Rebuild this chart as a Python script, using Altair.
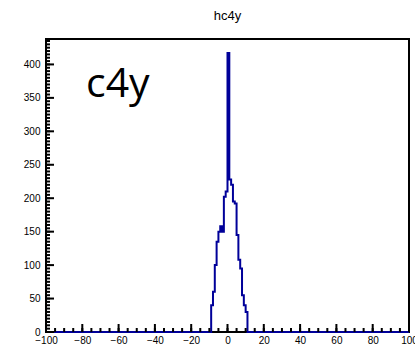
import altair as alt
import pandas as pd

# Histogram hc4y: unit-width bins, only the populated ones listed
bin_left = list(range(-9, 11))
counts = [40, 60, 100, 135, 150, 158, 150, 202, 210, 417,
          228, 220, 195, 192, 145, 108, 95, 55, 40, 30]
bin_width = 1

x_range = [-100, 100]
y_range = [0, 438]

x_major = list(range(-100, 101, 20))
x_minor = list(range(-100, 101, 5))
y_major = list(range(0, 401, 50))
y_minor = list(range(0, 436, 5))

# Outline points for a step-after line, starting and ending on the x range
step_x = [x_range[0]] + bin_left + [bin_left[-1] + bin_width, x_range[1]]
step_y = [0] + counts + [0, 0]
hist = pd.DataFrame({"x": step_x, "y": step_y})

label_df = pd.DataFrame({"label": ["c4y"]})

FONT = "Liberation Sans"
W, H = 363, 293
MAJOR, MINOR = 8, 4

x_scale = alt.Scale(domain=x_range, nice=False, zero=False)
y_scale = alt.Scale(domain=y_range, nice=False)

# Label-only axes; tick marks are drawn as rules pointing into the frame
x_axis = alt.Axis(
    values=x_major, ticks=False, domain=False, grid=False, title=None,
    labelFont=FONT, labelFontSize=10, labelColor="black",
    labelPadding=3, labelOverlap=False, labelFlush=False)
y_axis = alt.Axis(
    values=y_major, ticks=False, domain=False, grid=False, title=None,
    labelFont=FONT, labelFontSize=10, labelColor="black",
    labelPadding=6, labelOverlap=False, labelFlush=False)

line = alt.Chart(hist).mark_line(
    interpolate="step-after", color="#000099", strokeWidth=2
).encode(
    x=alt.X("x:Q", scale=x_scale, axis=x_axis),
    y=alt.Y("y:Q", scale=y_scale, axis=y_axis),
)


def x_ticks(values, length):
    return alt.Chart(pd.DataFrame({"v": values})).mark_rule(
        color="black", strokeWidth=2
    ).encode(
        x=alt.X("v:Q", scale=x_scale, axis=x_axis),
        y=alt.value(H), y2=alt.value(H - length),
    )


def y_ticks(values, length):
    return alt.Chart(pd.DataFrame({"v": values})).mark_rule(
        color="black", strokeWidth=2
    ).encode(
        y=alt.Y("v:Q", scale=y_scale, axis=y_axis),
        x=alt.value(0), x2=alt.value(length),
    )


tag = alt.Chart(label_df).mark_text(
    align="left", baseline="alphabetic", font="Open Sans",
    fontSize=41, color="black"
).encode(
    x=alt.value(40), y=alt.value(58), text="label:N"
)

chart = alt.layer(
    line,
    x_ticks(x_minor, MINOR), x_ticks(x_major, MAJOR),
    y_ticks(y_minor, MINOR), y_ticks(y_major, MAJOR),
    tag,
).properties(
    width=W, height=H,
    title=alt.TitleParams("hc4y", font=FONT, fontSize=13, fontWeight="normal",
                          color="black", anchor="middle", offset=16),
    autosize=alt.AutoSizeParams(type="none"),
    padding={"left": 46, "top": 39, "right": 6, "bottom": 15},
).configure_view(stroke="black", strokeWidth=2)

chart.save("out.html", embed_options={"renderer": "svg", "actions": False})
